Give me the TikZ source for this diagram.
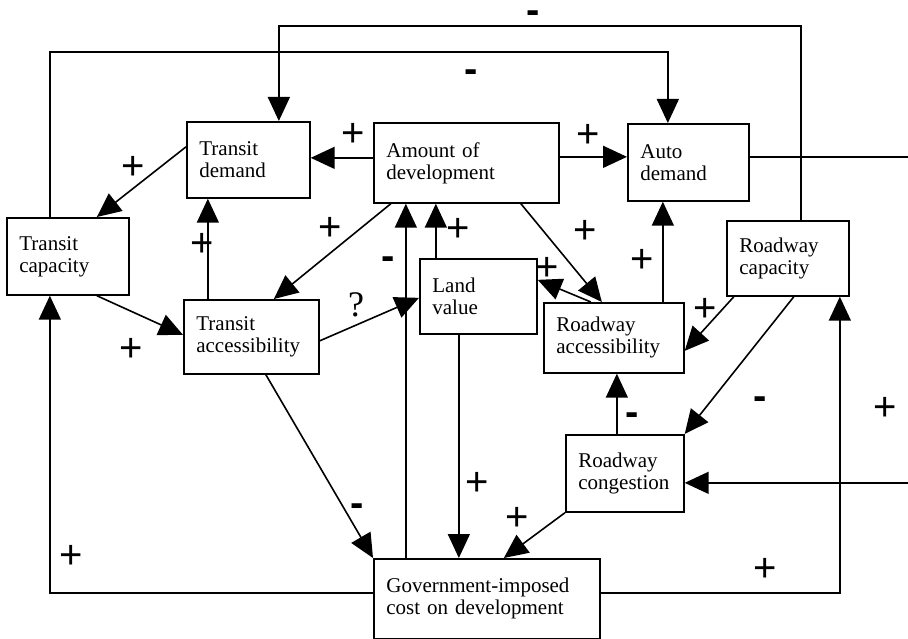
\documentclass[tikz,border=0pt]{standalone}
\usepackage{fontspec}
\setmainfont{Liberation Serif}
\newfontfamily\segnofont{Liberation Sans}
\usetikzlibrary{arrows.meta}

\begin{document}
\begin{tikzpicture}[x=1pt, y=-1pt,
    box/.style={draw, line width=1.7pt, anchor=north west, align=left,
        inner xsep=12.5pt, inner ysep=0pt, font=\fontsize{21}{22}\selectfont},
    freccia/.style={line width=1.6pt, -{Triangle[length=24pt, width=22pt]}},
    segno/.style={font=\segnofont\fontsize{40}{40}\selectfont, inner sep=0pt, yshift=-2pt},
    meno/.style={font=\segnofont\bfseries\fontsize{40}{40}\selectfont, inner sep=0pt, anchor=mid, yshift=-9pt}]
    % Parametri
    \pgfmathsetmacro{\larg}{908}
    \pgfmathsetmacro{\alt}{639}
    % Cornice
    \useasboundingbox (0,0) rectangle (\larg,\alt);
    \clip (0,0) rectangle (\larg,\alt);

    % Blocchi
    \node[box, text width=98pt, minimum height=76pt] (tdem) at (186,121) {Transit\\demand};
    \node[box, text width=160pt, minimum height=80pt] (amt) at (373,122) {Amount of\\development};
    \node[box, text width=96pt, minimum height=77pt] (adem) at (627,123) {Auto\\demand};
    \node[box, text width=97pt, minimum height=77pt] (tcap) at (6,217) {Transit\\capacity};
    \node[box, text width=110pt, minimum height=74pt] (tacc) at (183,299) {Transit\\accessibility};
    \node[box, text width=92pt, minimum height=75pt] (land) at (419,258) {Land\\value};
    \node[box, text width=115pt, minimum height=70pt] (racc) at (543,302) {Roadway\\accessibility};
    \node[box, text width=97pt, minimum height=75pt] (rcap) at (726,220) {Roadway\\capacity};
    \node[box, text width=93pt, minimum height=77pt] (rcon) at (565,434) {Roadway\\congestion};
    \node[box, text width=201pt, minimum height=80pt] (gov) at (373,558) {Government-imposed\\cost on development};

    % Anelli in alto
    \draw[freccia] ([xshift=13pt]rcap.north) -- ++(0,-194) -| ([xshift=30.5pt]tdem.north);
    \draw[freccia] ([xshift=-18pt]tcap.north) -- ++(0,-165) -| ([xshift=-20.5pt]adem.north);

    % Frecce
    \draw[freccia] ([yshift=5pt]amt.west) -- ([yshift=2pt]tdem.east);
    \draw[freccia] ([yshift=6pt]amt.east) -- ([yshift=5.5pt]adem.west);
    \draw[freccia] ([yshift=13pt]tdem.west) -- ([xshift=29pt]tcap.north);
    \draw[freccia] ([xshift=29pt]tcap.south) -- ([yshift=2pt]tacc.west);
    \draw[freccia] ([xshift=-43.5pt]tacc.north) -- ([xshift=-40.5pt]tdem.south);
    \draw[freccia] ([xshift=-75.5pt]amt.south) -- ([xshift=22.5pt]tacc.north);
    \draw[freccia] ([yshift=-4pt]tacc.east) -- ([yshift=-1.5pt]land.west);
    \draw[freccia] ([xshift=-81pt]gov.north) -- ([xshift=-60.5pt]amt.south);
    \draw[freccia] ([xshift=-42.5pt]land.north) -- ([xshift=-30.5pt]amt.south);
    \draw[freccia] ([xshift=-19.5pt]land.south) -- ([xshift=-28pt]gov.north);
    \draw[freccia] ([xshift=14.5pt]tacc.south) -- (gov.north west);
    \draw[freccia] ([xshift=54.5pt]amt.south) -- ([xshift=-12pt]racc.north);
    \draw[freccia] ([xshift=-23pt]racc.north) -- ([yshift=16.5pt]land.east);
    \draw[freccia] ([xshift=49pt]racc.north) -- ([xshift=-25.5pt]adem.south);
    \draw[freccia] ([xshift=-54pt]rcap.south) -- ([yshift=-13pt]racc.east);
    \draw[freccia] ([xshift=6pt]rcap.south) -- (rcon.north east);
    \draw[freccia] ([xshift=-8pt]rcon.north) -- ([xshift=3pt]racc.south);
    \draw[freccia] (rcon.south west) -- ([xshift=17pt]gov.north);

    % Anelli esterni
    \draw[freccia] ([yshift=5.5pt]adem.east) -- ++(180,0) |- ([yshift=-9.5pt]rcon.east);
    \draw[freccia] ([yshift=6pt]gov.west) -| ([xshift=-18pt]tcap.south);
    \draw[freccia] ([yshift=6pt]gov.east) -| ([xshift=52pt]rcap.south);

    % Segni
    \node[meno] (s1) at (533,12) {-};
    \node[meno] (s2) at (471,71) {-};
    \node[segno] (s3) at (353,133) {+};
    \node[segno] (s4) at (588,134) {+};
    \node[segno] (s5) at (133,166) {+};
    \node[segno] (s6) at (131,348) {+};
    \node[segno] (s7) at (202,243) {+};
    \node[segno] (s8) at (330,227) {+};
    \node[font=\fontsize{36}{36}\selectfont, inner sep=0pt] (s9) at (356,305) {?};
    \node[meno] (s10) at (388,258) {-};
    \node[segno] (s11) at (458,228) {+};
    \node[segno] (s12) at (477,482) {+};
    \node[meno] (s13) at (357,505) {-};
    \node[segno] (s14) at (585,230) {+};
    \node[segno] (s15) at (547,267) {+};
    \node[segno] (s16) at (642,259) {+};
    \node[segno] (s17) at (705,308) {+};
    \node[meno] (s18) at (760,398) {-};
    \node[meno] (s19) at (632,414) {-};
    \node[segno] (s20) at (517,517) {+};
    \node[segno] (s21) at (885,407) {+};
    \node[segno] (s22) at (71,555) {+};
    \node[segno] (s23) at (765,568) {+};
\end{tikzpicture}
\end{document}
